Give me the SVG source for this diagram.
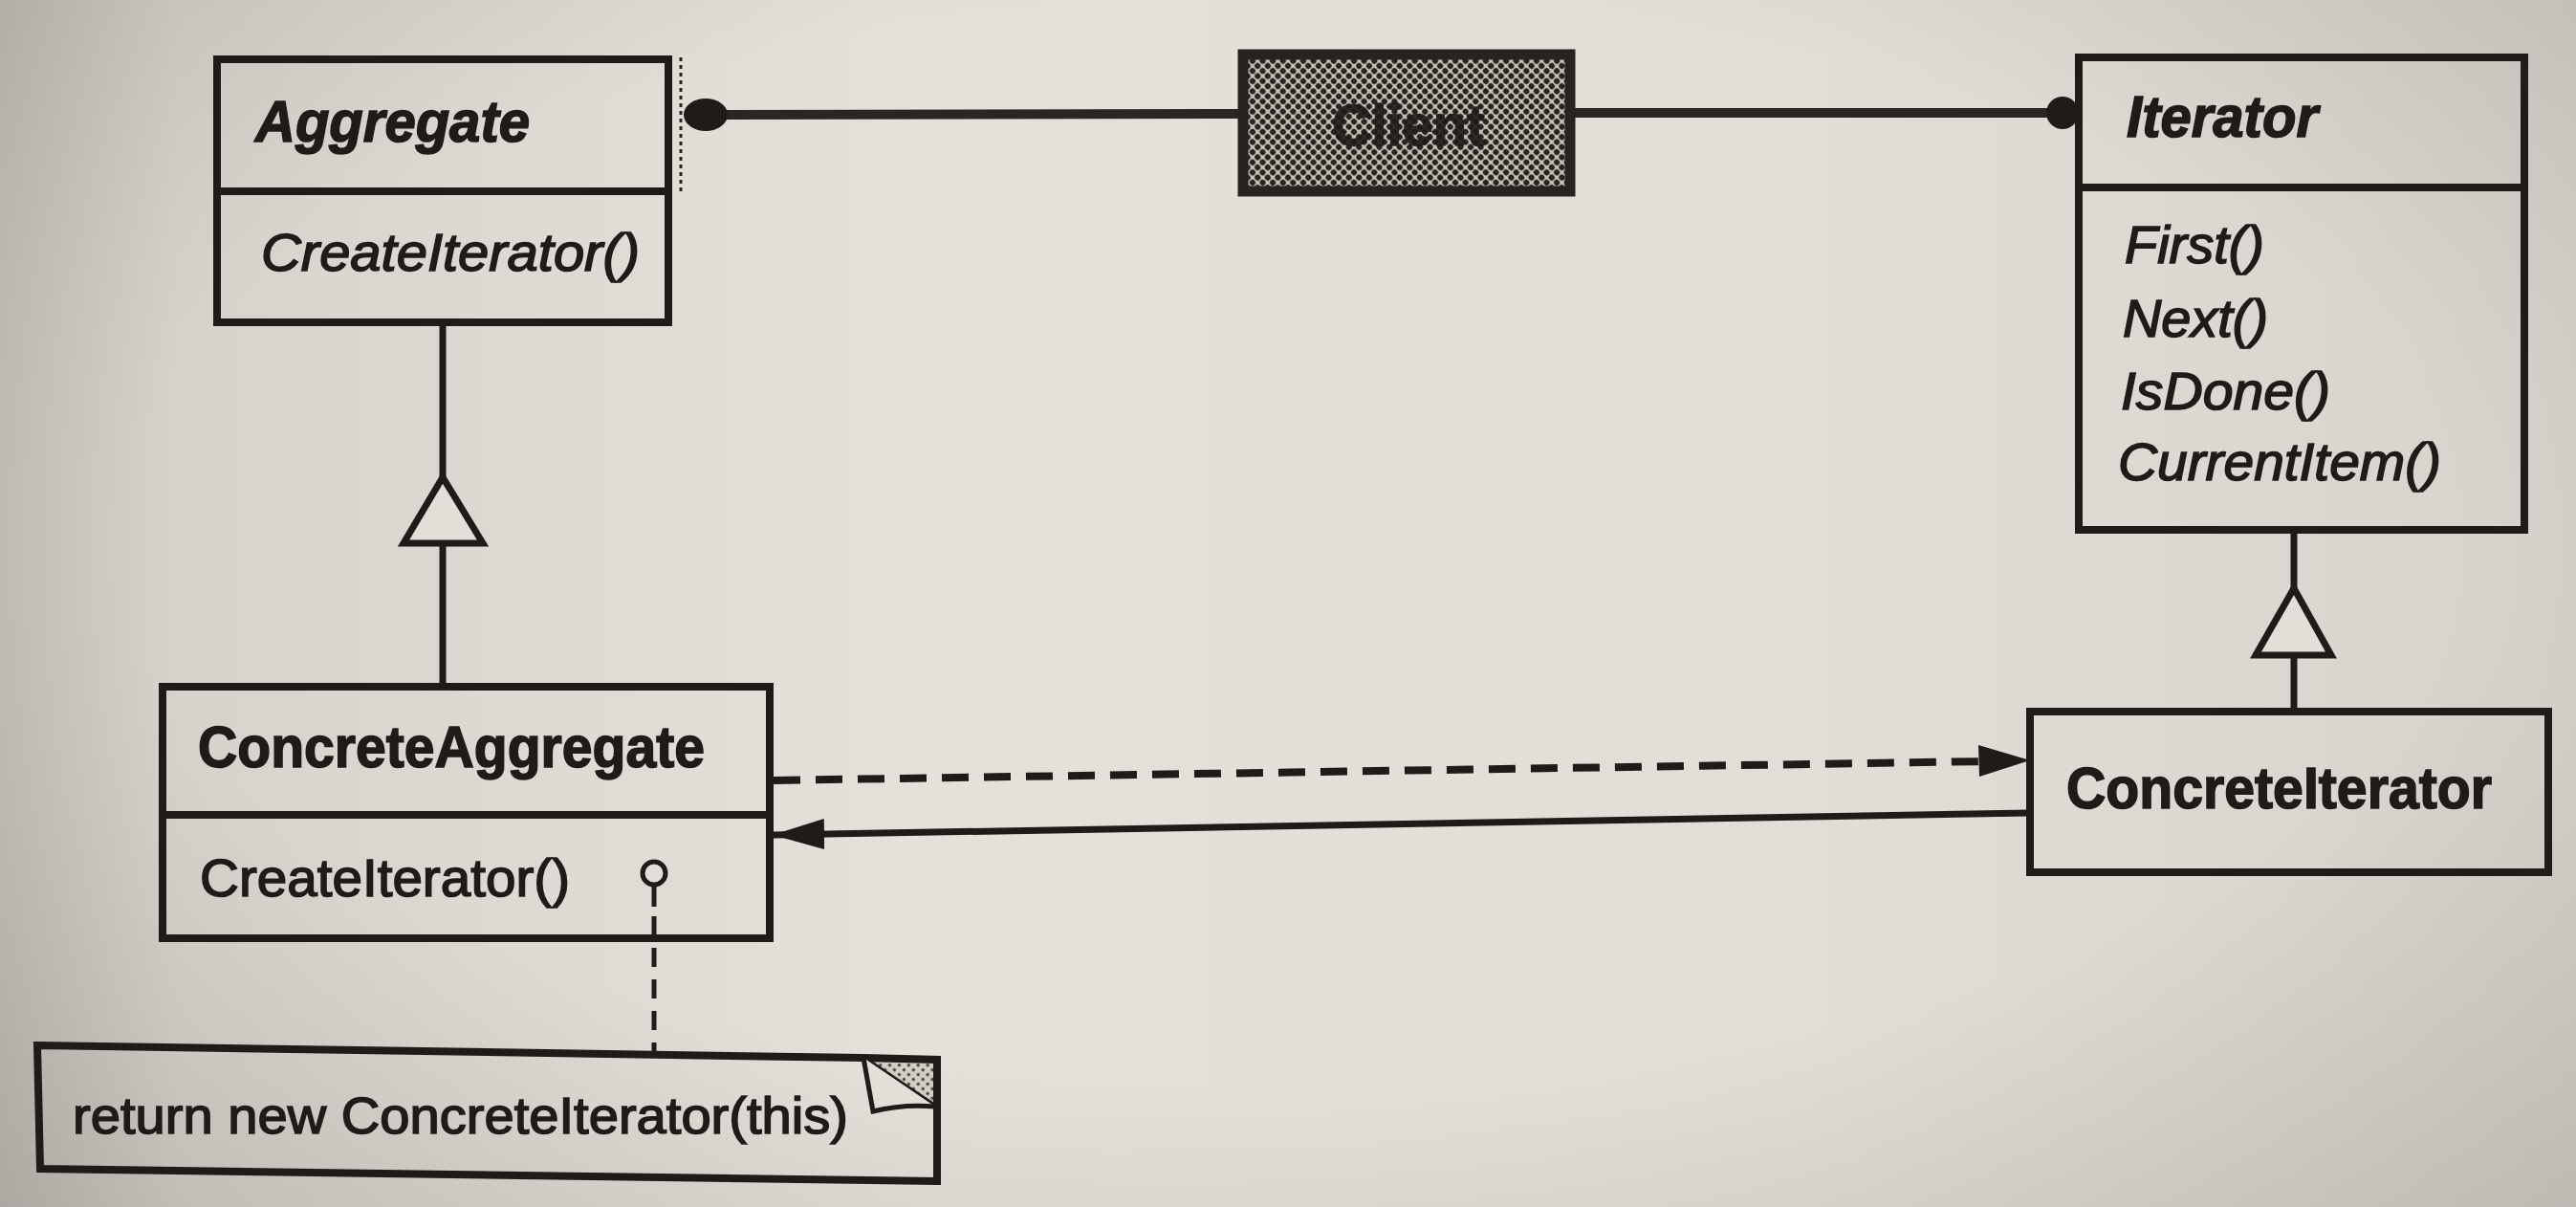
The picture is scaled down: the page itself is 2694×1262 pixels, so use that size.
<svg xmlns="http://www.w3.org/2000/svg" width="2694" height="1262" viewBox="0 0 2694 1262">
  <defs>
    <linearGradient id="paperH" x1="0" y1="0" x2="1" y2="0">
      <stop offset="0" stop-color="#c2bfb8"/>
      <stop offset="0.07" stop-color="#d6d3cc"/>
      <stop offset="0.35" stop-color="#e4e1da"/>
      <stop offset="0.7" stop-color="#e1ded7"/>
      <stop offset="1" stop-color="#d6d3cc"/>
    </linearGradient>
    <radialGradient id="vignette" cx="0.5" cy="0.45" r="0.75">
      <stop offset="0.6" stop-color="#000" stop-opacity="0"/>
      <stop offset="1" stop-color="#000" stop-opacity="0.12"/>
    </radialGradient>
    <pattern id="halftone" width="7.5" height="7.5" patternUnits="userSpaceOnUse" patternTransform="rotate(45)">
      <rect width="7.5" height="7.5" fill="#c9c4bb"/>
      <circle cx="3.75" cy="3.75" r="3.1" fill="#27231f"/>
    </pattern>
    <pattern id="halftoneLight" width="7" height="7" patternUnits="userSpaceOnUse" patternTransform="rotate(45)">
      <rect width="7" height="7" fill="#d2cec6"/>
      <circle cx="3.5" cy="3.5" r="1.7" fill="#4a4540"/>
    </pattern>
    <marker id="filledArrow" viewBox="0 0 54 32" refX="53" refY="16" markerWidth="54" markerHeight="32" markerUnits="userSpaceOnUse" orient="auto">
      <path d="M0,0 L54,16 L0,32 Z" fill="#1f1b18"/>
    </marker>
    <style>
      .box { fill: none; stroke: #1f1b18; stroke-width: 8; }
      .div { stroke: #1f1b18; stroke-width: 8; }
      .line { stroke: #1f1b18; stroke-width: 7; fill: none; }
      .halfline { stroke: #2a2622; stroke-width: 10; fill: none; }
      .dep { stroke: #1f1b18; stroke-width: 8; fill: none; stroke-dasharray: 28 16; }
      .notelink { stroke: #1f1b18; stroke-width: 5; fill: none; stroke-dasharray: 20 13; }
      .tri { fill: #e2dfd8; stroke: #1f1b18; stroke-width: 7; stroke-linejoin: miter; }
      text { font-family: "Liberation Sans", Arial, Helvetica, sans-serif; fill: #1f1b18; stroke: #1f1b18; stroke-width: 1.6; }
      .title { font-weight: bold; font-size: 62px; }
      .abstract { font-weight: bold; font-style: italic; font-size: 62px; }
      .op { font-size: 56px; }
      .opi { font-size: 56px; font-style: italic; }
      .note { font-size: 54px; }
    </style>
  </defs>

  <rect x="0" y="0" width="2694" height="1262" fill="url(#paperH)"/>
  <rect x="0" y="0" width="2694" height="1262" fill="url(#vignette)"/>

  <g id="connectors">
    <!-- Aggregate <- Client -->
    <line x1="712" y1="60" x2="712" y2="203" stroke="#2a2622" stroke-width="3" stroke-dasharray="4 4"/>
    <line class="halfline" x1="716" y1="120" x2="1300" y2="119"/>
    <ellipse cx="738" cy="120" rx="23" ry="17" fill="#1f1b18"/>
    <!-- Client -> Iterator -->
    <line class="halfline" x1="1642" y1="118" x2="2150" y2="118"/>
    <circle cx="2157" cy="118" r="17" fill="#1f1b18"/>
    <!-- ConcreteAggregate inherits Aggregate -->
    <line class="line" x1="463" y1="337" x2="463" y2="499"/>
    <polygon class="tri" points="463,499 422,568 505,568"/>
    <line class="line" x1="463" y1="568" x2="463" y2="719"/>
    <!-- ConcreteIterator inherits Iterator -->
    <line class="line" x1="2399" y1="554" x2="2399" y2="615"/>
    <polygon class="tri" points="2399,615 2359,685 2438,685"/>
    <line class="line" x1="2399" y1="685" x2="2399" y2="745"/>
    <!-- ConcreteAggregate - - -> ConcreteIterator -->
    <line class="dep" x1="809" y1="816" x2="2080" y2="796"/>
    <path d="M2123,795 L2069,779 L2070,812 Z" fill="#1f1b18"/>
    <!-- ConcreteIterator -> ConcreteAggregate -->
    <line class="line" x1="2123" y1="850" x2="809" y2="873" marker-end="url(#filledArrow)"/>
    <!-- Note link -->
    <circle cx="684" cy="913" r="12" fill="#e2dfd8" stroke="#1f1b18" stroke-width="5"/>
    <line x1="684" y1="925" x2="684" y2="948" stroke="#1f1b18" stroke-width="5"/>
    <line class="notelink" x1="684" y1="958" x2="684" y2="1100"/>
  </g>

  <g id="Aggregate">
    <rect class="box" x="227" y="62" width="472" height="275"/>
    <line class="div" x1="227" y1="200" x2="699" y2="200"/>
    <text class="abstract" x="267" y="148" textLength="287" lengthAdjust="spacingAndGlyphs">Aggregate</text>
    <text class="opi" x="273" y="283" textLength="396" lengthAdjust="spacingAndGlyphs">CreateIterator()</text>
  </g>

  <g id="Client">
    <rect x="1300" y="57" width="342" height="143" fill="url(#halftone)" stroke="#27231f" stroke-width="11"/>
    <text class="title" x="1393" y="152" textLength="160" lengthAdjust="spacingAndGlyphs" fill="#1a1714" opacity="0.9">Client</text>
  </g>

  <g id="Iterator">
    <rect class="box" x="2174" y="60" width="466" height="494"/>
    <line class="div" x1="2174" y1="196" x2="2640" y2="196"/>
    <text class="abstract" x="2224" y="143" textLength="200" lengthAdjust="spacingAndGlyphs">Iterator</text>
    <text class="opi" x="2222" y="275" textLength="146" lengthAdjust="spacingAndGlyphs">First()</text>
    <text class="opi" x="2220" y="352" textLength="152" lengthAdjust="spacingAndGlyphs">Next()</text>
    <text class="opi" x="2218" y="428" textLength="219" lengthAdjust="spacingAndGlyphs">IsDone()</text>
    <text class="opi" x="2215" y="502" textLength="338" lengthAdjust="spacingAndGlyphs">CurrentItem()</text>
  </g>

  <g id="ConcreteAggregate">
    <rect class="box" x="170" y="718" width="635" height="263"/>
    <line class="div" x1="170" y1="852" x2="805" y2="852"/>
    <text class="title" x="207" y="802" textLength="530" lengthAdjust="spacingAndGlyphs">ConcreteAggregate</text>
    <text class="op" x="209" y="937" textLength="387" lengthAdjust="spacingAndGlyphs">CreateIterator()</text>
  </g>

  <g id="ConcreteIterator">
    <rect class="box" x="2123" y="744" width="542" height="168"/>
    <text class="title" x="2161" y="845" textLength="445" lengthAdjust="spacingAndGlyphs">ConcreteIterator</text>
  </g>

  <g id="Note">
    <path d="M903,1106 L980,1108 L980,1158 Z" fill="url(#halftoneLight)"/>
    <path d="M39,1093 L903,1106 L980,1108 L980,1235 L42,1222 Z" fill="none" stroke="#1f1b18" stroke-width="8" stroke-linejoin="miter"/>
    <path d="M903,1106 L980,1158" stroke="#1f1b18" stroke-width="5" fill="none"/>
    <path d="M903,1106 L913,1162 Q945,1154 978,1157" stroke="#1f1b18" stroke-width="5" fill="#e2dfd8"/>
    <text class="note" x="76" y="1185" textLength="811" lengthAdjust="spacingAndGlyphs">return new ConcreteIterator(this)</text>
  </g>
</svg>
